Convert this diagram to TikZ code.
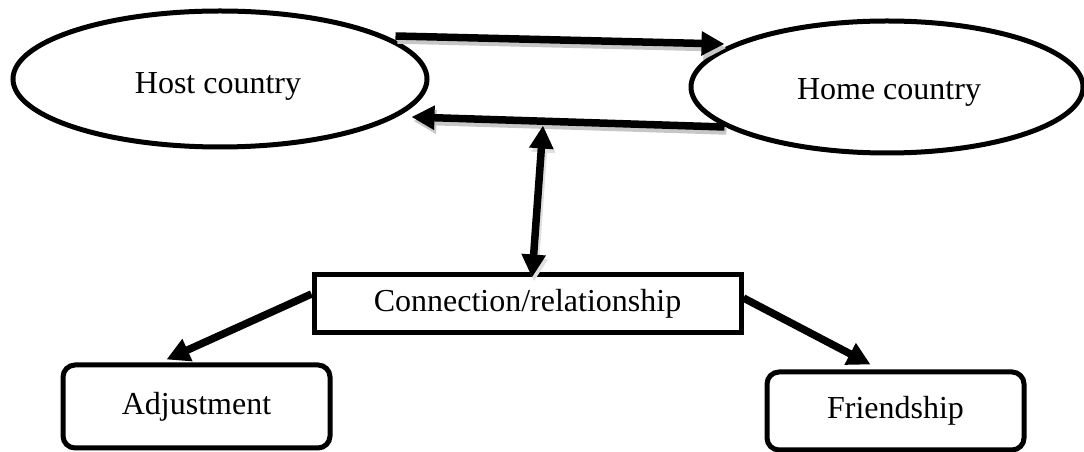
\documentclass[tikz,border=0pt]{standalone}
\usepackage{fontspec}
\setmainfont{Liberation Serif}
\usetikzlibrary{shapes.geometric,arrows.meta}

\tikzset{
  label font/.style={font=\fontsize{32}{38}\selectfont},
  country/.style={ellipse, draw, line width=5pt, inner sep=0pt, label font},
  plainbox/.style={rectangle, draw, line width=5pt, inner sep=0pt, label font},
  softbox/.style={rectangle, rounded corners=12pt, draw, line width=5pt, inner sep=0pt, label font},
  flow/.style={line width=7.5pt, -{Triangle[length=23pt,width=23pt]}},
  twoway/.style={line width=7.5pt, {Triangle[length=23pt,width=23pt]}-{Triangle[length=23pt,width=23pt]}},
  shade/.style={draw=black!22, transform canvas={shift={(2pt,-4pt)}}},
}

\begin{document}
\begin{tikzpicture}[x=1pt,y=1pt]
  \useasboundingbox (0,0) rectangle (1084,452);

  % the two countries
  \node[country, minimum width=414pt, minimum height=136pt] (host) at (220,373) {};
  \node[label font] (hosttext) at (218,366) {Host country};
  \node[country, minimum width=392pt, minimum height=132pt] (home) at (887,365) {};
  \node[label font] (hometext) at (889,360) {Home country};

  % link between them and its outcomes
  \node[plainbox, minimum width=427pt, minimum height=58pt] (conn) at (527.5,148) {Connection/relationship};
  \node[softbox, minimum width=267pt, minimum height=83pt] (adj) at (196.5,45.5) {Adjustment};
  \node[softbox, minimum width=257pt, minimum height=78pt] (friend) at (895.5,41) {Friendship};

  % shadows under the upper arrows
  \draw[flow, shade] ([shift={(-34,43)}]host.east) -- ([shift={(36,43)}]home.west);
  \draw[flow, shade] ([shift={(36,-40)}]home.west) -- ([shift={(-18,-38)}]host.east);
  \draw[twoway, shade, draw=black!12] ([shift={(15.5,147)}]conn.north) -- ([shift={(4.5,-5)}]conn.north);

  % arrows between the countries
  \draw[flow] ([shift={(-34,43)}]host.east) -- ([shift={(36,43)}]home.west);
  \draw[flow] ([shift={(36,-40)}]home.west) -- ([shift={(-18,-38)}]host.east);

  % two-way link down to the relationship box
  \draw[twoway] ([shift={(15.5,147)}]conn.north) -- ([shift={(4.5,-5)}]conn.north);

  % outcomes
  \draw[flow] ([yshift=10]conn.west) -- ([shift={(-30,3)}]adj.north);
  \draw[flow] ([yshift=6]conn.east) -- ([shift={(-25,5)}]friend.north);
\end{tikzpicture}
\end{document}
